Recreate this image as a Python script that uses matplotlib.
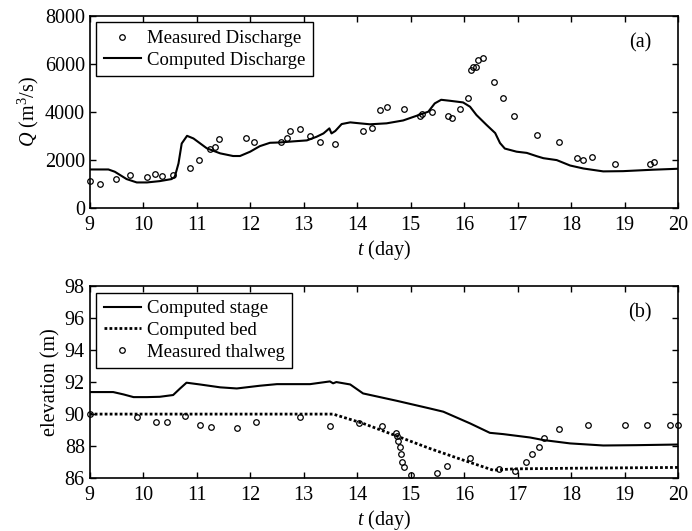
import matplotlib
matplotlib.use("Agg")
import matplotlib.pyplot as plt

plt.rcParams["font.family"] = "Liberation Serif"
plt.rcParams["mathtext.fontset"] = "custom"
plt.rcParams["mathtext.rm"] = "Liberation Serif"
plt.rcParams["mathtext.it"] = "Liberation Serif:italic"

# --- panel (a): discharge ---
t_meas_q = [9.0, 9.2, 9.5, 9.76, 10.07, 10.23, 10.36, 10.55, 10.88, 11.04, 11.24, 11.35,
            11.41, 11.93, 12.07, 12.58, 12.69, 12.74, 12.94, 13.11, 13.30, 13.58, 14.10,
            14.28, 14.43, 14.55, 14.87, 15.17, 15.22, 15.40, 15.70, 15.77, 15.93, 16.07,
            16.12, 16.16, 16.23, 16.25, 16.36, 16.56, 16.72, 16.94, 17.37, 17.77, 18.10,
            18.23, 18.39, 18.82, 19.47, 19.54]
q_meas = [1150, 990, 1220, 1375, 1290, 1415, 1345, 1375, 1680, 1985, 2460, 2530,
          2890, 2917, 2750, 2765, 2930, 3210, 3290, 2985, 2750, 2667, 3220,
          3350, 4070, 4210, 4140, 3820, 3900, 3985, 3820, 3750, 4140, 4600,
          5750, 5890, 5890, 6180, 6235, 5265, 4600, 3820, 3055, 2750, 2070,
          1985, 2110, 1833, 1833, 1917]

t_comp_q = [9.0, 9.35, 9.47, 9.69, 9.88, 10.07, 10.31, 10.53, 10.59, 10.66, 10.72, 10.82,
            10.94, 11.19, 11.44, 11.68, 11.81, 12.0, 12.18, 12.37, 12.56, 12.81, 13.06,
            13.24, 13.37, 13.48, 13.52, 13.59, 13.71, 13.87, 14.05, 14.24, 14.55, 14.86,
            15.17, 15.33, 15.45, 15.57, 15.73, 15.98, 16.11, 16.23, 16.42, 16.58, 16.67,
            16.76, 16.98, 17.17, 17.36, 17.48, 17.73, 17.98, 18.23, 18.60, 18.97, 19.53, 20.0]
q_comp = [1610, 1610, 1515, 1210, 1070, 1070, 1125, 1210, 1300, 1860, 2690, 3010,
          2900, 2490, 2280, 2170, 2170, 2350, 2580, 2720, 2735, 2780, 2820,
          2970, 3110, 3320, 3110, 3210, 3500, 3570, 3530, 3490, 3530, 3650,
          3890, 4015, 4360, 4510, 4470, 4400, 4220, 3875, 3460, 3125, 2710,
          2480, 2350, 2300, 2160, 2080, 2000, 1775, 1650, 1530, 1540, 1600, 1640]

# --- panel (b): elevation ---
t_stage = [9.0, 9.44, 9.63, 9.82, 10.07, 10.31, 10.56, 10.69, 10.81, 11.06, 11.44, 11.75,
           12.18, 12.5, 13.12, 13.49, 13.55, 13.61, 13.87, 14.11, 14.74, 15.36, 15.61,
           16.11, 16.48, 16.73, 17.23, 17.48, 17.98, 18.6, 19.22, 20.0]
stage = [91.375, 91.375, 91.23, 91.06, 91.06, 91.08, 91.19, 91.6, 91.96, 91.85, 91.67, 91.6,
         91.77, 91.87, 91.87, 92.04, 91.92, 92.0, 91.85, 91.29, 90.83, 90.35, 90.15,
         89.42, 88.83, 88.75, 88.54, 88.38, 88.17, 88.04, 88.06, 88.1]

t_bed = [9.0, 13.55, 14.11, 14.74, 15.36, 15.98, 16.54, 16.92, 18.0, 20.0]
bed = [90.0, 90.0, 89.42, 88.63, 87.85, 87.13, 86.5, 86.58, 86.62, 86.67]

t_thal = [9.0, 9.89, 10.24, 10.44, 10.79, 11.07, 11.27, 11.76, 12.11, 12.93, 13.49, 14.04,
          14.46, 14.73, 14.74, 14.77, 14.80, 14.82, 14.84, 14.87, 15.0, 15.49, 15.67,
          16.11, 16.66, 16.95, 17.16, 17.26, 17.39, 17.5, 17.77, 18.32, 19.01, 19.42,
          19.85, 20.0]
thal = [90.0, 89.79, 89.52, 89.5, 89.87, 89.35, 89.19, 89.15, 89.48, 89.79, 89.27, 89.42,
        89.27, 88.85, 88.65, 88.31, 87.96, 87.5, 87.02, 86.67, 86.19, 86.35, 86.77,
        87.29, 86.6, 86.46, 87.02, 87.48, 87.96, 88.48, 89.1, 89.33, 89.33, 89.33,
        89.33, 89.33]

fig = plt.figure(figsize=(6.92, 5.31), dpi=100)
ax1 = fig.add_axes([0.1296, 0.608, 0.8504, 0.362])
ax2 = fig.add_axes([0.1296, 0.0995, 0.8504, 0.362])

tick_fs = 14.5
leg_fs = 13.5
mk = dict(marker="o", mfc="none", mec="black", ms=4, mew=0.9, ls="none", clip_on=False)

ax1.plot(t_meas_q, q_meas, label="Measured Discharge", **mk)
ax1.plot(t_comp_q, q_comp, color="black", lw=1.5, label="Computed Discharge")
ax1.set_xlim(9, 20)
ax1.set_ylim(0, 8000)
ax1.set_yticks([0, 2000, 4000, 6000, 8000])
ax1.set_xlabel("$t$ (day)", fontsize=tick_fs, labelpad=2)
ax1.set_ylabel("$Q$ (m$^3$/s)", fontsize=tick_fs, labelpad=3)
ax1.text(0.955, 0.86, "(a)", transform=ax1.transAxes, fontsize=tick_fs, ha="right", va="center")

ax2.plot(t_stage, stage, color="black", lw=1.5, label="Computed stage")
ax2.plot(t_bed, bed, color="black", lw=2, ls=(0, (1, 0.8)), label="Computed bed")
ax2.plot(t_thal, thal, label="Measured thalweg", **mk)
ax2.set_xlim(9, 20)
ax2.set_ylim(86, 98)
ax2.set_yticks(range(86, 99, 2))
ax2.set_xlabel("$t$ (day)", fontsize=tick_fs, labelpad=2)
ax2.set_ylabel("elevation (m)", fontsize=tick_fs, labelpad=3)
ax2.text(0.955, 0.86, "(b)", transform=ax2.transAxes, fontsize=tick_fs, ha="right", va="center")

for ax in (ax1, ax2):
    ax.set_xticks(range(9, 21))
    ax.tick_params(direction="in", top=True, right=True, length=4, width=1,
                   labelsize=tick_fs)
    ax.tick_params(axis="x", pad=5.5)
    ax.tick_params(axis="y", pad=3.5)
    for s in ax.spines.values():
        s.set_linewidth(1.2)
    leg = ax.legend(loc="upper left", fontsize=leg_fs, frameon=True, fancybox=False,
                    edgecolor="black", framealpha=1, borderaxespad=0.35,
                    handlelength=2.0, handletextpad=0.3, borderpad=0.4,
                    labelspacing=0.25, numpoints=1)
    leg.get_frame().set_linewidth(1.0)

fig.savefig("out.png", dpi=100)
